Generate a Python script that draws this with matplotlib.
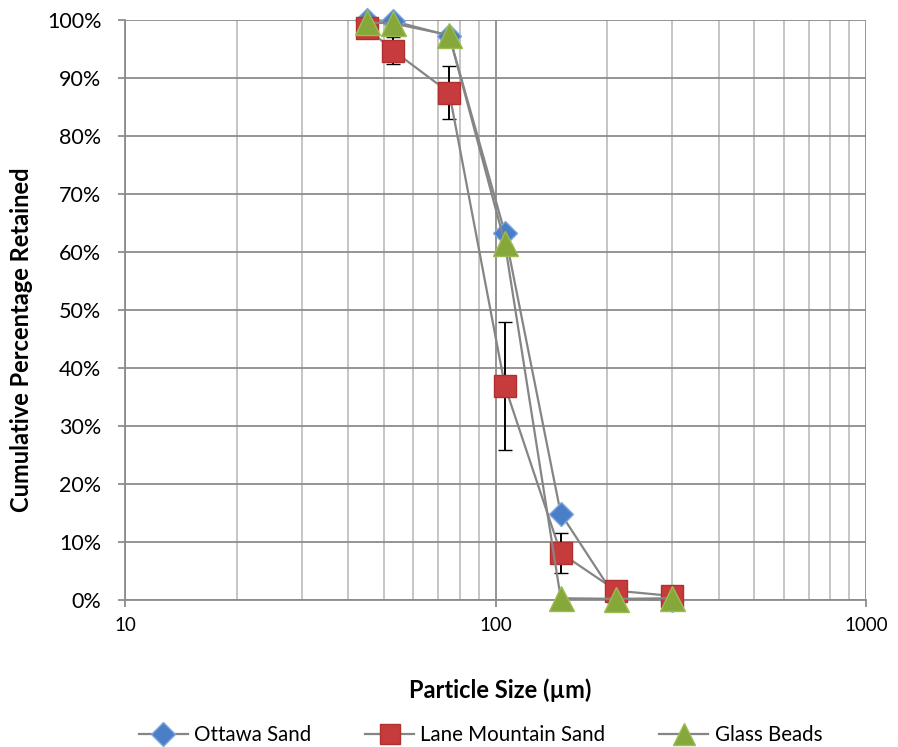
import matplotlib
matplotlib.use("Agg")
import matplotlib.pyplot as plt
from matplotlib.ticker import FixedLocator, LogLocator, NullFormatter, FuncFormatter
from matplotlib.lines import Line2D

plt.rcParams['font.family'] = ['Lato', 'DejaVu Sans']

sizes = [45, 53, 75, 106, 150, 212, 300]
ottawa = [100.0, 99.8, 97.3, 63.3, 14.9, 0.2, 0.0]
lane = [98.6, 94.7, 87.5, 36.9, 8.1, 1.6, 0.7]
lane_err = [0.8, 2.3, 4.6, 11.1, 3.4, 0.3, 0.2]
glass = [99.6, 99.4, 97.4, 61.5, 0.3, 0.2, 0.3]

xticks = [10, 100, 1000]
yticks = list(range(0, 101, 10))

fig = plt.figure(figsize=(8.98, 7.47), dpi=100)
ax = fig.add_axes([125/898, 1-600/747, (866-125)/898, (600-20)/747])

line_col = '#858585'
ax.plot(sizes, ottawa, color=line_col, lw=1.6, marker='D', ms=12, mfc='#4a7fc8',
        mec='#7fa8e0', mew=1.0, zorder=3, clip_on=False)
eb = ax.errorbar(sizes, lane, yerr=lane_err, color=line_col, lw=1.6, marker='s', ms=16,
                 mfc='#c63c3c', mec='#b03030', mew=1.0, ecolor='black', elinewidth=1.4,
                 capsize=5, capthick=1.4, zorder=4)
for art in eb.get_children():
    art.set_clip_on(False)
ax.plot(sizes, glass, color=line_col, lw=1.6, marker='^', ms=18, mfc='#86a83a',
        mec='#9cbc52', mew=1.0, zorder=5, clip_on=False)

ax.set_xscale('log')
ax.set_xlim(10, 1000)
ax.set_ylim(0, 100)
ax.xaxis.set_major_locator(FixedLocator(xticks))
ax.xaxis.set_minor_locator(LogLocator(base=10, subs=range(2, 10)))
ax.xaxis.set_minor_formatter(NullFormatter())
ax.xaxis.set_major_formatter(FuncFormatter(lambda v, p: f"{int(v)}"))
ax.yaxis.set_major_locator(FixedLocator(yticks))
ax.yaxis.set_major_formatter(FuncFormatter(lambda v, p: f"{int(v)}%"))

ax.grid(True, which='major', color='#8c8c8c', lw=1.3)
ax.grid(True, which='minor', axis='x', color='#c0c0c0', lw=1.3)
ax.set_axisbelow(True)
ax.spines['top'].set_visible(False)
ax.spines['right'].set_visible(False)
for s in ['left', 'bottom']:
    ax.spines[s].set_color('#8c8c8c')
    ax.spines[s].set_linewidth(1.3)

ax.tick_params(axis='x', which='major', labelsize=13.5, colors='#8c8c8c',
               labelcolor='black', length=5, width=1.3, pad=7)
ax.tick_params(axis='y', which='major', labelsize=15.5, colors='#8c8c8c',
               labelcolor='black', length=5, width=1.3, pad=12)
ax.tick_params(axis='x', which='minor', length=0)

ax.set_xlabel('Particle Size (µm)', fontsize=17, fontweight='bold')
ax.set_ylabel('Cumulative Percentage Retained', fontsize=17, fontweight='bold')
ax.xaxis.set_label_coords(0.5 + (500 - 495) / 741, -(690 - 600) / 580)
ax.yaxis.set_label_coords(-(125 - 22) / 741, 0.5 + (310 - 340) / 580)
ax.xaxis.label.set_va('center')
ax.yaxis.label.set_va('center')

handles = [
    Line2D([], [], color=line_col, lw=1.6, marker='D', ms=12, mfc='#4a7fc8', mec='#7fa8e0'),
    Line2D([], [], color=line_col, lw=1.6, marker='s', ms=15, mfc='#c63c3c', mec='#b03030'),
    Line2D([], [], color=line_col, lw=1.6, marker='^', ms=16, mfc='#86a83a', mec='#9cbc52'),
]
fig.legend(handles, ['Ottawa Sand', 'Lane Mountain Sand', 'Glass Beads'],
           loc='center', bbox_to_anchor=(0.535, 1-735/747), ncol=3, frameon=False,
           fontsize=14.8, handlelength=2.4, columnspacing=2.6, handletextpad=0.3)

fig.savefig('out.png', dpi=100)
